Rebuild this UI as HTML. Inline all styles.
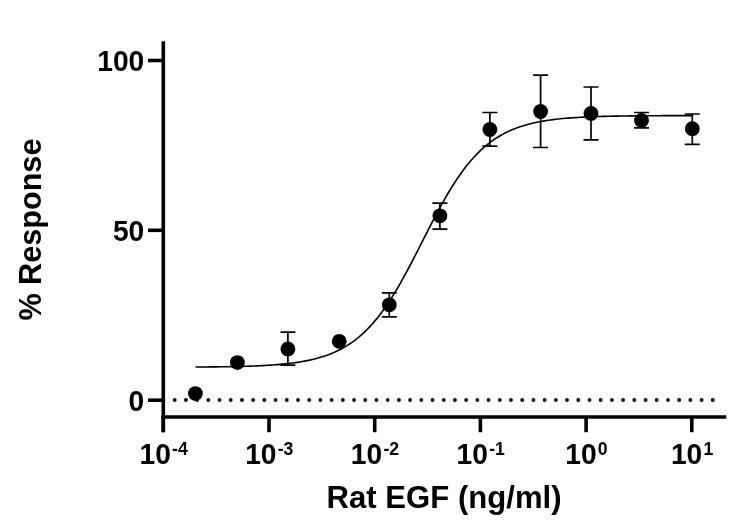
<!DOCTYPE html>
<html><head><meta charset="utf-8"><title>Rat EGF dose response</title>
<style>
html,body{margin:0;padding:0;background:#fff;}
body{width:750px;height:529px;overflow:hidden;}
svg{display:block;filter:blur(0.35px);}
text{font-family:"Liberation Sans",Arial,sans-serif;font-weight:bold;fill:#000;}
</style></head><body>
<svg width="750" height="529" viewBox="0 0 750 529">
<rect width="750" height="529" fill="#fff"/>
<g id="dots" fill="#000"><circle cx="174.71" cy="400.0" r="1.9"/><circle cx="185.92" cy="400.0" r="1.9"/><circle cx="197.13" cy="400.0" r="1.9"/><circle cx="208.34" cy="400.0" r="1.9"/><circle cx="219.55" cy="400.0" r="1.9"/><circle cx="230.76" cy="400.0" r="1.9"/><circle cx="241.97" cy="400.0" r="1.9"/><circle cx="253.18" cy="400.0" r="1.9"/><circle cx="264.39" cy="400.0" r="1.9"/><circle cx="275.60" cy="400.0" r="1.9"/><circle cx="286.81" cy="400.0" r="1.9"/><circle cx="298.02" cy="400.0" r="1.9"/><circle cx="309.23" cy="400.0" r="1.9"/><circle cx="320.44" cy="400.0" r="1.9"/><circle cx="331.65" cy="400.0" r="1.9"/><circle cx="342.86" cy="400.0" r="1.9"/><circle cx="354.07" cy="400.0" r="1.9"/><circle cx="365.28" cy="400.0" r="1.9"/><circle cx="376.49" cy="400.0" r="1.9"/><circle cx="387.70" cy="400.0" r="1.9"/><circle cx="398.91" cy="400.0" r="1.9"/><circle cx="410.12" cy="400.0" r="1.9"/><circle cx="421.33" cy="400.0" r="1.9"/><circle cx="432.54" cy="400.0" r="1.9"/><circle cx="443.75" cy="400.0" r="1.9"/><circle cx="454.96" cy="400.0" r="1.9"/><circle cx="466.17" cy="400.0" r="1.9"/><circle cx="477.38" cy="400.0" r="1.9"/><circle cx="488.59" cy="400.0" r="1.9"/><circle cx="499.80" cy="400.0" r="1.9"/><circle cx="511.01" cy="400.0" r="1.9"/><circle cx="522.22" cy="400.0" r="1.9"/><circle cx="533.43" cy="400.0" r="1.9"/><circle cx="544.64" cy="400.0" r="1.9"/><circle cx="555.85" cy="400.0" r="1.9"/><circle cx="567.06" cy="400.0" r="1.9"/><circle cx="578.27" cy="400.0" r="1.9"/><circle cx="589.48" cy="400.0" r="1.9"/><circle cx="600.69" cy="400.0" r="1.9"/><circle cx="611.90" cy="400.0" r="1.9"/><circle cx="623.11" cy="400.0" r="1.9"/><circle cx="634.32" cy="400.0" r="1.9"/><circle cx="645.53" cy="400.0" r="1.9"/><circle cx="656.74" cy="400.0" r="1.9"/><circle cx="667.95" cy="400.0" r="1.9"/><circle cx="679.16" cy="400.0" r="1.9"/><circle cx="690.37" cy="400.0" r="1.9"/><circle cx="701.58" cy="400.0" r="1.9"/><circle cx="712.79" cy="400.0" r="1.9"/></g>
<path d="M163.3,41.2V432.2" stroke="#000" stroke-width="3.6" fill="none"/>
<path d="M161.5,417H726.3" stroke="#000" stroke-width="3.6" fill="none"/>
<g id="xticks"><line x1="163.3" y1="417" x2="163.3" y2="432.2" stroke="#000" stroke-width="3.6"/><text transform="translate(163.6,464.3) scale(0.94,1)" font-size="30" text-anchor="middle">10<tspan dy="-9.2" dx="1.3" font-size="18.8">-4</tspan></text><line x1="269.0" y1="417" x2="269.0" y2="432.2" stroke="#000" stroke-width="3.6"/><text transform="translate(269.3,464.3) scale(0.94,1)" font-size="30" text-anchor="middle">10<tspan dy="-9.2" dx="1.3" font-size="18.8">-3</tspan></text><line x1="374.7" y1="417" x2="374.7" y2="432.2" stroke="#000" stroke-width="3.6"/><text transform="translate(375.0,464.3) scale(0.94,1)" font-size="30" text-anchor="middle">10<tspan dy="-9.2" dx="1.3" font-size="18.8">-2</tspan></text><line x1="480.4" y1="417" x2="480.4" y2="432.2" stroke="#000" stroke-width="3.6"/><text transform="translate(480.7,464.3) scale(0.94,1)" font-size="30" text-anchor="middle">10<tspan dy="-9.2" dx="1.3" font-size="18.8">-1</tspan></text><line x1="586.1" y1="417" x2="586.1" y2="432.2" stroke="#000" stroke-width="3.6"/><text transform="translate(586.4,464.3) scale(0.94,1)" font-size="30" text-anchor="middle">10<tspan dy="-9.2" dx="1.3" font-size="18.8">0</tspan></text><line x1="691.8" y1="417" x2="691.8" y2="432.2" stroke="#000" stroke-width="3.6"/><text transform="translate(692.1,464.3) scale(0.94,1)" font-size="30" text-anchor="middle">10<tspan dy="-9.2" dx="1.3" font-size="18.8">1</tspan></text></g>
<g id="yticks"><line x1="148" y1="400.2" x2="163.3" y2="400.2" stroke="#000" stroke-width="3.6"/><text transform="translate(144.3,411.0) scale(0.94,1)" font-size="30" text-anchor="end">0</text><line x1="148" y1="230.3" x2="163.3" y2="230.3" stroke="#000" stroke-width="3.6"/><text transform="translate(144.3,241.2) scale(0.94,1)" font-size="30" text-anchor="end">50</text><line x1="148" y1="60.5" x2="163.3" y2="60.5" stroke="#000" stroke-width="3.6"/><text transform="translate(144.3,71.3) scale(0.94,1)" font-size="30" text-anchor="end">100</text></g>
<path d="M195.50,367.05 L197.98,367.03 L200.47,367.01 L202.95,366.99 L205.43,366.97 L207.92,366.95 L210.40,366.92 L212.88,366.90 L215.37,366.87 L217.85,366.84 L220.34,366.80 L222.82,366.77 L225.30,366.73 L227.79,366.69 L230.27,366.64 L232.75,366.59 L235.24,366.54 L237.72,366.48 L240.20,366.42 L242.69,366.35 L245.17,366.28 L247.65,366.20 L250.14,366.12 L252.62,366.03 L255.10,365.93 L257.59,365.83 L260.07,365.71 L262.55,365.59 L265.04,365.45 L267.52,365.31 L270.00,365.15 L272.49,364.98 L274.97,364.80 L277.46,364.61 L279.94,364.39 L282.42,364.17 L284.91,363.92 L287.39,363.65 L289.87,363.37 L292.36,363.06 L294.84,362.72 L297.32,362.36 L299.81,361.98 L302.29,361.56 L304.77,361.11 L307.26,360.63 L309.74,360.10 L312.22,359.54 L314.71,358.94 L317.19,358.29 L319.68,357.59 L322.16,356.84 L324.64,356.04 L327.13,355.17 L329.61,354.24 L332.09,353.25 L334.58,352.18 L337.06,351.04 L339.54,349.82 L342.03,348.51 L344.51,347.11 L346.99,345.62 L349.48,344.03 L351.96,342.34 L354.44,340.53 L356.93,338.61 L359.41,336.58 L361.89,334.42 L364.38,332.13 L366.86,329.71 L369.35,327.15 L371.83,324.45 L374.31,321.61 L376.80,318.63 L379.28,315.50 L381.76,312.22 L384.25,308.80 L386.73,305.23 L389.21,301.52 L391.70,297.67 L394.18,293.68 L396.66,289.56 L399.15,285.31 L401.63,280.95 L404.11,276.48 L406.60,271.91 L409.08,267.25 L411.56,262.52 L414.05,257.73 L416.53,252.88 L419.02,248.01 L421.50,243.11 L423.98,238.21 L426.47,233.32 L428.95,228.45 L431.43,223.62 L433.92,218.85 L436.40,214.14 L438.88,209.50 L441.37,204.96 L443.85,200.52 L446.33,196.19 L448.82,191.99 L451.30,187.90 L453.78,183.95 L456.27,180.14 L458.75,176.47 L461.23,172.95 L463.72,169.57 L466.20,166.33 L468.69,163.25 L471.17,160.31 L473.65,157.51 L476.14,154.86 L478.62,152.34 L481.10,149.96 L483.59,147.71 L486.07,145.59 L488.55,143.58 L491.04,141.70 L493.52,139.93 L496.00,138.27 L498.49,136.70 L500.97,135.24 L503.45,133.87 L505.94,132.59 L508.42,131.39 L510.90,130.27 L513.39,129.23 L515.87,128.25 L518.36,127.35 L520.84,126.50 L523.32,125.71 L525.81,124.98 L528.29,124.29 L530.77,123.66 L533.26,123.07 L535.74,122.52 L538.22,122.01 L540.71,121.53 L543.19,121.09 L545.67,120.69 L548.16,120.31 L550.64,119.95 L553.12,119.63 L555.61,119.33 L558.09,119.05 L560.57,118.79 L563.06,118.54 L565.54,118.32 L568.02,118.11 L570.51,117.92 L572.99,117.74 L575.48,117.58 L577.96,117.43 L580.44,117.29 L582.93,117.16 L585.41,117.04 L587.89,116.92 L590.38,116.82 L592.86,116.72 L595.34,116.63 L597.83,116.55 L600.31,116.48 L602.79,116.41 L605.28,116.34 L607.76,116.28 L610.24,116.22 L612.73,116.17 L615.21,116.12 L617.70,116.08 L620.18,116.04 L622.66,116.00 L625.15,115.97 L627.63,115.93 L630.11,115.90 L632.60,115.88 L635.08,115.85 L637.56,115.83 L640.05,115.80 L642.53,115.78 L645.01,115.76 L647.50,115.75 L649.98,115.73 L652.46,115.72 L654.95,115.70 L657.43,115.69 L659.91,115.68 L662.40,115.67 L664.88,115.66 L667.37,115.65 L669.85,115.64 L672.33,115.63 L674.82,115.62 L677.30,115.62 L679.78,115.61 L682.27,115.60 L684.75,115.60 L687.23,115.59 L689.72,115.59 L692.20,115.58" stroke="#000" stroke-width="1.6" fill="none"/>
<g id="points"><circle cx="195.4" cy="393.6" r="7.4" fill="#000"/><circle cx="237.4" cy="362.6" r="7.4" fill="#000"/><path d="M287.9,332.1V365.2M280.4,332.1H295.4M280.4,365.2H295.4" stroke="#000" stroke-width="1.7" fill="none"/><circle cx="287.9" cy="348.9" r="7.4" fill="#000"/><circle cx="339.2" cy="341.3" r="7.4" fill="#000"/><path d="M389.3,292.8V316.9M381.8,292.8H396.8M381.8,316.9H396.8" stroke="#000" stroke-width="1.7" fill="none"/><circle cx="389.3" cy="304.8" r="7.4" fill="#000"/><path d="M439.9,203.1V229.1M432.4,203.1H447.4M432.4,229.1H447.4" stroke="#000" stroke-width="1.7" fill="none"/><circle cx="439.9" cy="215.8" r="7.4" fill="#000"/><path d="M489.9,112.5V146.2M482.4,112.5H497.4M482.4,146.2H497.4" stroke="#000" stroke-width="1.7" fill="none"/><circle cx="489.9" cy="129.5" r="7.4" fill="#000"/><path d="M540.6,75.2V147.5M533.1,75.2H548.1M533.1,147.5H548.1" stroke="#000" stroke-width="1.7" fill="none"/><circle cx="540.6" cy="111.5" r="7.4" fill="#000"/><path d="M591.0,87.0V139.8M583.5,87.0H598.5M583.5,139.8H598.5" stroke="#000" stroke-width="1.7" fill="none"/><circle cx="591.0" cy="113.4" r="7.4" fill="#000"/><path d="M641.5,112.5V127.9M634.0,112.5H649.0M634.0,127.9H649.0" stroke="#000" stroke-width="1.7" fill="none"/><circle cx="641.5" cy="120.4" r="7.4" fill="#000"/><path d="M692.3,114.0V144.3M684.8,114.0H699.8M684.8,144.3H699.8" stroke="#000" stroke-width="1.7" fill="none"/><circle cx="692.3" cy="128.7" r="7.4" fill="#000"/></g>
<text x="444.1" y="507.5" font-size="32" text-anchor="middle" textLength="235" lengthAdjust="spacingAndGlyphs">Rat EGF (ng/ml)</text>
<text transform="translate(41,229.6) rotate(-90)" font-size="32" text-anchor="middle" textLength="182" lengthAdjust="spacingAndGlyphs">% Response</text>
</svg>
</body></html>
